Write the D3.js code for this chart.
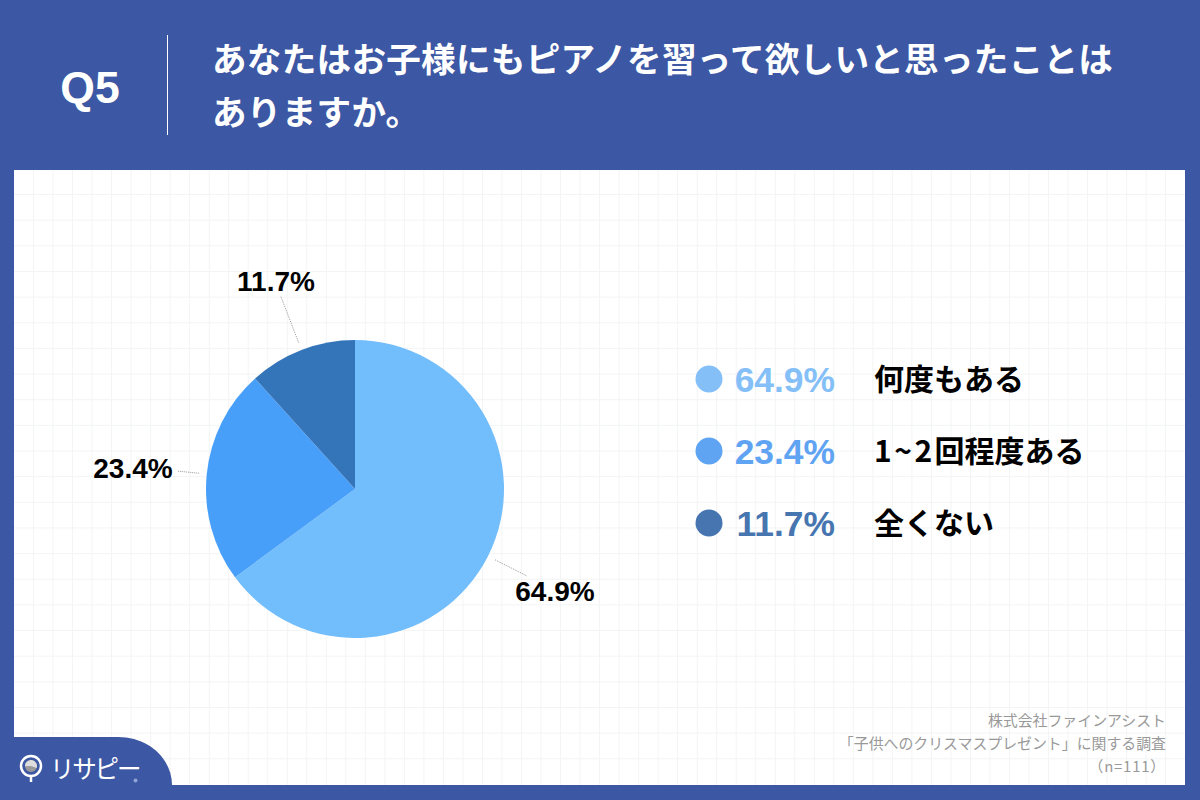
<!DOCTYPE html>
<html lang="ja">
<head>
<meta charset="utf-8">
<title>Q5</title>
<script src="https://cdn.jsdelivr.net/npm/d3@7"></script>
<style>
html, body { margin: 0; padding: 0; background: #3c57a3; }
svg { display: block; }
text { font-family: "Liberation Sans", "Noto Sans CJK JP", sans-serif; }
.ja { font-family: "Noto Sans CJK JP", sans-serif; }
</style>
</head>
<body>
<svg id="chart" width="1200" height="800"></svg>
<script>
// chart values
const questionNo = 'Q5';
const titleLines = ['あなたはお子様にもピアノを習って欲しいと思ったことは', 'ありますか。'];
const categories = ['何度もある', '1~2回程度ある', '全くない'];
const values = [64.9, 23.4, 11.7];
const sourceLines = ['株式会社ファインアシスト', '「子供へのクリスマスプレゼント」に関する調査', '（n=111）'];

const BG_COLOR = '#3c57a3';
const GRID_COLOR = '#f3f4f5';
const SLICE_COLORS = ['#72bdfb', '#489ffa', '#3474b8'];
const LEGEND_COLORS = ['#85bff8', '#5fa3f3', '#4675b0'];

// layout of the slice labels, same order as values
const leaderOuter = [193, 178, 206];
const labelPos = [[555, 600.5], [133, 477.5], [276, 291]];

const svg = d3.select('#chart');
const fmt = d3.format('.1f');

function drawPanel() {
	svg.append('rect').attr('width', 1200).attr('height', 800).attr('fill', BG_COLOR);
	svg.append('rect').attr('x', 14).attr('y', 170).attr('width', 1171).attr('height', 615).attr('fill', '#fff');

	const xs = d3.range(0, 59).map(i => 33.5 + i * 19.52);
	const ys = d3.range(0, 23).map(i => 194.5 + i * 25.65);
	const grid = svg.append('g').attr('stroke', GRID_COLOR).attr('stroke-width', 1);
	grid.selectAll('.v').data(xs).enter().append('line')
		.attr('x1', d => d).attr('x2', d => d).attr('y1', 170).attr('y2', 785);
	grid.selectAll('.h').data(ys).enter().append('line')
		.attr('x1', 14).attr('x2', 1185).attr('y1', d => d).attr('y2', d => d);
}

function drawHeader() {
	svg.append('text').text(questionNo)
		.attr('x', 90).attr('y', 102.5).attr('text-anchor', 'middle')
		.attr('font-size', 44.5).attr('font-weight', 700).attr('fill', '#fff');
	svg.append('line').attr('x1', 167.5).attr('x2', 167.5).attr('y1', 35).attr('y2', 135)
		.attr('stroke', '#fff').attr('stroke-width', 1);
	svg.selectAll('.title').data(titleLines).enter().append('text')
		.attr('class', 'ja')
		.text(d => d)
		.attr('x', 212)
		.attr('y', (d, i) => 72 + i * 52.5)
		.attr('font-size', 34.6).attr('font-weight', 700)
		.attr('letter-spacing', 0.27).attr('fill', '#fff');
}

function drawPie() {
	const cx = 355, cy = 489, r = 149;
	const pie = d3.pie().sort(null)(values);
	const arc = d3.arc().innerRadius(0).outerRadius(r);
	const g = svg.append('g').attr('transform', `translate(${cx},${cy})`);

	g.selectAll('path').data(pie).enter().append('path')
		.attr('d', arc)
		.attr('fill', (d, i) => SLICE_COLORS[i]);

	const mid = d => (d.startAngle + d.endAngle) / 2;
	g.selectAll('line').data(pie).enter().append('line')
		.attr('x1', d => Math.sin(mid(d)) * 157)
		.attr('y1', d => -Math.cos(mid(d)) * 157)
		.attr('x2', (d, i) => Math.sin(mid(d)) * leaderOuter[i])
		.attr('y2', (d, i) => -Math.cos(mid(d)) * leaderOuter[i])
		.attr('stroke', '#999').attr('stroke-width', 1).attr('stroke-dasharray', '1 1');

	svg.selectAll('.sliceLabel').data(values).enter().append('text')
		.text(d => fmt(d) + '%')
		.attr('x', (d, i) => labelPos[i][0])
		.attr('y', (d, i) => labelPos[i][1])
		.attr('text-anchor', 'middle')
		.attr('font-size', 28).attr('font-weight', 700).attr('fill', '#000');
}

function drawLegend() {
	const y = d3.scalePoint().domain(categories).range([379, 523]);
	const rows = svg.selectAll('.legendRow').data(categories).enter().append('g')
		.attr('transform', d => `translate(0,${y(d)})`);
	rows.append('circle').attr('cx', 709).attr('r', 13.5).attr('fill', (d, i) => LEGEND_COLORS[i]);
	rows.append('text')
		.text((d, i) => fmt(values[i]) + '%')
		.attr('x', 835).attr('y', 13).attr('text-anchor', 'end')
		.attr('font-size', 35.4).attr('font-weight', 700)
		.attr('fill', (d, i) => LEGEND_COLORS[i]);
	const names = rows.append('text')
		.attr('class', 'ja')
		.attr('x', 874).attr('y', 11)
		.attr('font-size', 30).attr('font-weight', 700).attr('fill', '#000');
	// the leading digits sit wider apart than the kana
	names.append('tspan')
		.attr('letter-spacing', 2.5)
		.text(d => (d.match(/^[\d~]+/) || [''])[0]);
	names.append('tspan')
		.text(d => d.replace(/^[\d~]+/, ''));
}

function drawFooter() {
	svg.selectAll('.source').data(sourceLines).enter().append('text')
		.attr('class', 'ja')
		.text(d => d)
		.attr('x', 1166)
		.attr('y', (d, i) => 726 + i * 23)
		.attr('text-anchor', 'end')
		.attr('letter-spacing', (d, i) => i === 2 ? 0.8 : 0)
		.attr('font-size', 14.9).attr('fill', '#999');

	// logo tab in the lower left corner
	svg.append('path')
		.attr('d', 'M14,737 H118 C150,737 172,760 172,785 H14 Z')
		.attr('fill', BG_COLOR);
	const logo = svg.append('g').attr('transform', 'translate(31,766)');
	logo.append('circle').attr('r', 10).attr('fill', 'none').attr('stroke', '#fff').attr('stroke-width', 2.5);
	logo.append('circle').attr('r', 6).attr('fill', '#9a9a9a');
	logo.append('path').attr('d', d3.arc().innerRadius(0).outerRadius(6).startAngle(-1.6).endAngle(1.9)()).attr('fill', '#ddd');
	logo.append('line').attr('y1', 10).attr('y2', 16).attr('stroke', '#fff').attr('stroke-width', 2.5);
	svg.append('text').attr('class', 'ja').text('リサピー')
		.attr('x', 50).attr('y', 778)
		.attr('font-size', 24.5).attr('font-weight', 400).attr('letter-spacing', -2.2).attr('fill', '#fff');
	svg.append('circle').attr('cx', 135.5).attr('cy', 780.5).attr('r', 2).attr('fill', '#8fa3d6');
}

drawPanel();
drawHeader();
drawPie();
drawLegend();
drawFooter();
</script>
</body>
</html>
